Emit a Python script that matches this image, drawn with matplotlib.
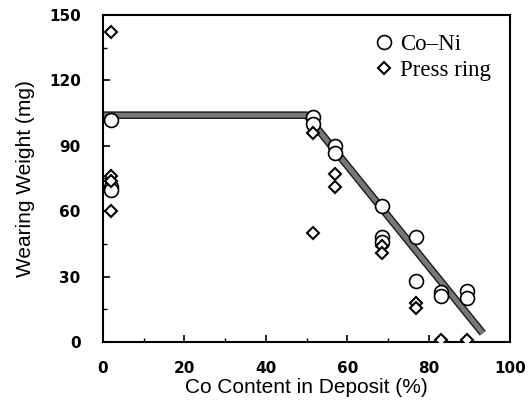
import matplotlib.pyplot as plt
import matplotlib.patheffects as pe
import numpy as np

# Co-Ni coating wear vs Co content
co_ni_x = [2, 2, 2, 51.5, 51.5, 57, 57, 68.5, 68.5, 68.5, 77, 77, 83, 83, 89.5, 89.5]
co_ni_y = [102, 71, 69.5, 103, 100, 90, 86.5, 62.5, 48, 46, 48, 28, 23, 21, 23.5, 20]

press_x = [2, 2, 2, 2, 51.5, 51.5, 57, 57, 68.5, 68.5, 77, 77, 83, 89.5]
press_y = [142, 76, 74, 60, 96, 50, 77, 71, 44, 41, 18, 15.5, 1, 1]

# fitted trend line (plateau then drop)
fit_x = [0, 50, 93.3]
fit_y = [104, 104, 4]

plt.rcParams['font.family'] = ['Liberation Sans', 'DejaVu Sans']

fig = plt.figure(figsize=(5.28, 4.13), dpi=100)
ax = fig.add_axes([0.195, 0.172, 0.771, 0.792])

ax.plot(fit_x, fit_y, color="#777777", lw=3.5, solid_capstyle="butt", zorder=2,
        path_effects=[pe.Stroke(linewidth=5.5, foreground="#1a1a1a"), pe.Normal()])

ax.plot(co_ni_x, co_ni_y, "o", mfc="white", mec="black", mew=1.2, ms=10,
        ls="none", zorder=3, label="Co\u2013Ni")
ax.plot(press_x, press_y, "D", mfc="white", mec="black", mew=1.5, ms=6.5,
        ls="none", zorder=4, label="Press ring")

ax.set_xlim(0, 100)
ax.set_ylim(0, 150)
ax.set_xticks(np.arange(0, 101, 20))
ax.set_yticks(np.arange(0, 151, 30))
ax.set_xticks(np.arange(10, 100, 20), minor=True)
ax.set_yticks(np.arange(15, 150, 30), minor=True)
ax.tick_params(which="major", direction="in", length=5, width=1.2)
ax.tick_params(which="minor", direction="in", length=3, width=1)
ax.tick_params(axis="x", pad=14)
ax.tick_params(axis="y", pad=16)
for lab in ax.get_xticklabels() + ax.get_yticklabels():
    lab.set_fontfamily("DejaVu Sans")
    lab.set_fontweight("bold")
    lab.set_fontsize(11)

for s in ax.spines.values():
    s.set_linewidth(1.5)

ax.set_xlabel("Co Content in Deposit (%)", fontsize=15, labelpad=1)
ax.set_ylabel("Wearing Weight (mg)", fontsize=15, labelpad=10)

ax.legend(loc="upper right", frameon=False, prop={"family": "Liberation Serif", "size": 16.5},
          handletextpad=0.1, borderaxespad=0.45, labelspacing=0.2, handlelength=1.2)

fig.savefig("out.png", dpi=100)
